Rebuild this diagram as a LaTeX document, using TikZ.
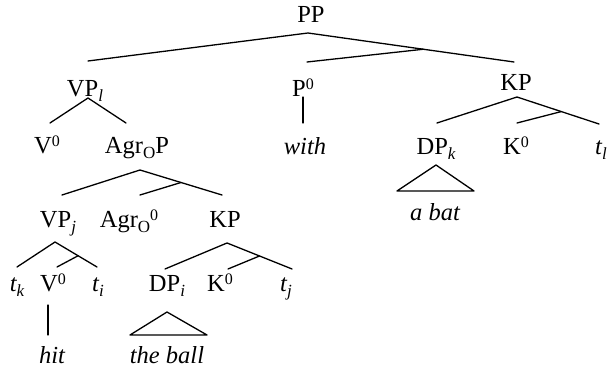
\documentclass[tikz,border=0pt]{standalone}
\usepackage{fontspec}
\setmainfont{Liberation Serif}
\usetikzlibrary{calc}
\newcommand\lo[1]{\raisebox{-5pt}{\fontsize{17}{17}\selectfont #1}}
\newcommand\hi[1]{\raisebox{7.5pt}{\fontsize{16}{16}\selectfont #1}}
\begin{document}
\begin{tikzpicture}[x=1pt,y=-1pt,
  lab/.style={anchor=base,inner sep=0pt,font=\fontsize{24.5}{28}\selectfont},
  edge/.style={draw,line width=1.3pt,line cap=round,line join=round}]
\useasboundingbox (0,0) rectangle (608,371);
% labels
\node[lab] (PP) at (311,23) {PP};
\node[lab] (VPl) at (85,97) {VP\lo{\itshape l}};
\node[lab] (P0) at (303,97) {P\hi{0}};
\node[lab] (KP) at (516,91) {KP};
\node[lab] (V0a) at (47,154) {V\hi{0}};
\node[lab] (AgrOP) at (137,154) {Agr\lo{O}P};
\node[lab] (with) at (305,155) {\itshape with};
\node[lab] (DPk) at (436,155) {DP\lo{\itshape k}};
\node[lab] (K0a) at (516,155) {K\hi{0}};
\node[lab] (tl) at (601,155) {\itshape t\lo{l}};
\node[lab] (abat) at (435,221) {\itshape a bat};
\node[lab] (VPj) at (58,228) {VP\lo{\itshape j}};
\node[lab] (Agr0) at (129,228) {Agr\lo{O}\hi{0}};
\node[lab] (KPb) at (225,228) {KP};
\node[lab] (tk) at (17,292) {\itshape t\lo{k}};
\node[lab] (V0b) at (53,292) {V\hi{0}};
\node[lab] (ti) at (98,292) {\itshape t\lo{i}};
\node[lab] (DPi) at (167,292) {DP\lo{\itshape i}};
\node[lab] (K0b) at (220,292) {K\hi{0}};
\node[lab] (tj) at (286,292) {\itshape t\lo{j}};
\node[lab] (hit) at (52,363) {\itshape hit};
\node[lab] (theball) at (167,363) {\itshape the ball};
% connector points
\coordinate (PPd) at (308,33);
\coordinate (VPlu) at (88,61);
\coordinate (KPu) at (514,62);
\coordinate (P0u) at (307,62);
\coordinate (P0d) at (303,97);
\coordinate (withu) at (303,123);
\coordinate (VPld) at (88,98);
\coordinate (V0au) at (50,123);
\coordinate (AgrOPu) at (126,123);
\coordinate (KPd) at (517,97);
\coordinate (DPku) at (437,123);
\coordinate (tlu) at (599,124);
\coordinate (K0au) at (517,123);
\coordinate (DPkd) at (436,165);
\coordinate (DPkl) at (397,191);
\coordinate (DPkr) at (474,191);
\coordinate (AgrOPd) at (140,170);
\coordinate (VPju) at (62,195);
\coordinate (KPbu) at (222,195);
\coordinate (Agr0u) at (140,195);
\coordinate (VPjd) at (55,242);
\coordinate (tku) at (17,267);
\coordinate (tiu) at (97,267);
\coordinate (V0bu) at (57,267);
\coordinate (V0bd) at (48,305);
\coordinate (hitu) at (48,335);
\coordinate (KPbd) at (227,243);
\coordinate (DPiu) at (165,269);
\coordinate (tju) at (292,269);
\coordinate (K0bu) at (228,269);
\coordinate (DPid) at (167,312);
\coordinate (DPil) at (130,335);
\coordinate (DPir) at (207,335);
% connectors
\draw[edge] (VPlu) -- (PPd) -- (KPu);
\draw[edge] (P0u) -- ($(PPd)!0.56!(KPu)$);
\draw[edge] (P0d) -- (withu);
\draw[edge] (V0au) -- (VPld) -- (AgrOPu);
\draw[edge] (DPku) -- (KPd) -- (tlu);
\draw[edge] (K0au) -- ($(KPd)!0.54!(tlu)$);
\draw[edge] (DPkd) -- (DPkl) -- (DPkr) -- cycle;
\draw[edge] (VPju) -- (AgrOPd) -- (KPbu);
\draw[edge] (Agr0u) -- ($(AgrOPd)!0.5!(KPbu)$);
\draw[edge] (tku) -- (VPjd) -- (tiu);
\draw[edge] (V0bu) -- ($(VPjd)!0.55!(tiu)$);
\draw[edge] (V0bd) -- (hitu);
\draw[edge] (DPiu) -- (KPbd) -- (tju);
\draw[edge] (K0bu) -- ($(KPbd)!0.5!(tju)$);
\draw[edge] (DPid) -- (DPil) -- (DPir) -- cycle;
\end{tikzpicture}
\end{document}
